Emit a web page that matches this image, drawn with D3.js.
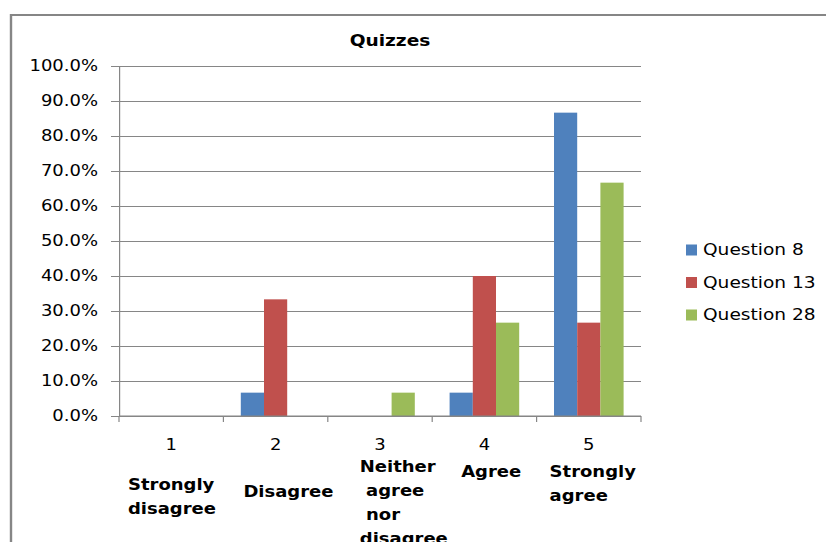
<!DOCTYPE html>
<html>
<head>
<meta charset="utf-8">
<script src="https://cdn.jsdelivr.net/npm/d3@7"></script>
<style>
  html, body { margin: 0; padding: 0; background: #fff; }
  svg { display: block; }
  text { font-family: "DejaVu Sans", sans-serif; fill: #000; }
</style>
</head>
<body>
<svg id="chart"></svg>
<script>
// ---- data ----
const categories = ["1", "2", "3", "4", "5"];
const categoryText = [
  ["Strongly", "disagree"],
  ["Disagree"],
  ["Neither", " agree", " nor", "disagree"],
  ["Agree"],
  ["Strongly", "agree"]
];
const seriesNames = ["Question 8", "Question 13", "Question 28"];
const question8  = [0, 0.0667, 0, 0.0667, 0.8667];
const question13 = [0, 0.3333, 0, 0.4000, 0.2667];
const question28 = [0, 0, 0.0667, 0.2667, 0.6667];
const yTicks = [0, 0.1, 0.2, 0.3, 0.4, 0.5, 0.6, 0.7, 0.8, 0.9, 1.0];
const seriesColors = ["#4F81BD", "#C0504D", "#9BBB59"];

const seriesValues = [question8, question13, question28];

// ---- layout (screen pixels; the drawing is widened horizontally by SX) ----
const W = 826, H = 542, SX = 1.2;
const px = v => v / SX;
const plot = { left: px(119), right: px(641), top: 66, bottom: 416 };

const svg = d3.select("#chart")
  .attr("width", W).attr("height", H)
  .attr("viewBox", `0 0 ${W / SX} ${H}`)
  .attr("preserveAspectRatio", "none");

// chart frame
svg.append("rect")
  .attr("x", px(11)).attr("y", 15)
  .attr("width", px(900)).attr("height", 600)
  .attr("fill", "#fff").attr("stroke", "#868686").attr("stroke-width", 2);

// title
svg.append("text")
  .attr("x", px(390)).attr("y", 46)
  .attr("text-anchor", "middle")
  .style("font-weight", "bold").style("font-size", "15.5px")
  .text("Quizzes");

// scales
const x0 = d3.scaleBand().domain(categories).range([plot.left, plot.right]).padding(0);
const x1 = d3.scaleBand().domain(seriesNames).range([0, x0.bandwidth()])
  .paddingInner(0).paddingOuter(0.75);
const y = d3.scaleLinear().domain([0, 1]).range([plot.bottom, plot.top]);

// gridlines
svg.append("g")
  .attr("transform", `translate(${plot.left},0)`)
  .call(d3.axisLeft(y).tickValues(yTicks).tickSize(-(plot.right - plot.left)).tickFormat(""))
  .call(g => g.select(".domain").remove())
  .call(g => g.selectAll("line").attr("stroke", "#868686").attr("stroke-width", 1));

// y axis with outer ticks and labels
svg.append("g")
  .attr("transform", `translate(${plot.left},0)`)
  .call(d3.axisLeft(y).tickValues(yTicks).tickSizeInner(px(8)).tickSizeOuter(0)
    .tickPadding(px(13)).tickFormat(d3.format(".1%")))
  .call(g => g.select(".domain").attr("stroke", "#868686"))
  .call(g => g.selectAll("line").attr("stroke", "#868686"))
  .call(g => g.selectAll("text").style("font-size", "15px").style("font-family", "DejaVu Sans"));

// bars
const groups = svg.append("g").selectAll("g")
  .data(categories)
  .join("g")
  .attr("transform", c => `translate(${x0(c)},0)`);

groups.selectAll("rect")
  .data((c, i) => seriesNames.map((s, k) => ({ s, k, v: seriesValues[k][i] })))
  .join("rect")
  .attr("x", d => x1(d.s))
  .attr("width", x1.bandwidth())
  .attr("y", d => y(d.v))
  .attr("height", d => y(0) - y(d.v))
  .attr("fill", d => seriesColors[d.k]);

// x axis: category numbers centred, ticks at category boundaries
svg.append("g")
  .attr("transform", `translate(0,${plot.bottom})`)
  .call(d3.axisBottom(x0).tickSize(0).tickPadding(23))
  .call(g => g.select(".domain").attr("stroke", "#868686").attr("d", `M${plot.left},0H${plot.right}`))
  .call(g => g.selectAll("text").style("font-size", "15px").style("font-family", "DejaVu Sans"));

const boundaries = [x0(categories[0])].concat(categories.map(c => x0(c) + x0.bandwidth()));
svg.append("g").selectAll("line")
  .data(boundaries)
  .join("line")
  .attr("x1", d => d).attr("x2", d => d)
  .attr("y1", plot.bottom).attr("y2", plot.bottom + 6)
  .attr("stroke", "#868686");

// descriptive category labels
const labelDx = [px(9), px(20), px(32), px(29), px(13)];
const labelY0 = [490, 497, 472, 477, 477];
const lineGap = 24;
categories.forEach((c, i) => {
  const t = svg.append("text")
    .attr("x", x0(c) + labelDx[i])
    .attr("y", labelY0[i])
    .style("font-weight", "bold").style("font-size", "15px")
    .style("white-space", "pre");
  categoryText[i].forEach((line, j) => {
    t.append("tspan")
      .attr("x", x0(c) + labelDx[i])
      .attr("y", labelY0[i] + j * lineGap)
      .text(line);
  });
});

// legend
const legend = svg.append("g").selectAll("g")
  .data(seriesNames)
  .join("g")
  .attr("transform", (d, i) => `translate(${px(686)},${250 + i * 32.5})`);
legend.append("rect")
  .attr("x", 0).attr("y", -5.5)
  .attr("width", px(11)).attr("height", 11)
  .attr("fill", (d, i) => seriesColors[i]);
legend.append("text")
  .attr("x", px(17)).attr("y", 0).attr("dy", "0.35em")
  .style("font-size", "15.5px")
  .text(d => d);
</script>
</body>
</html>
